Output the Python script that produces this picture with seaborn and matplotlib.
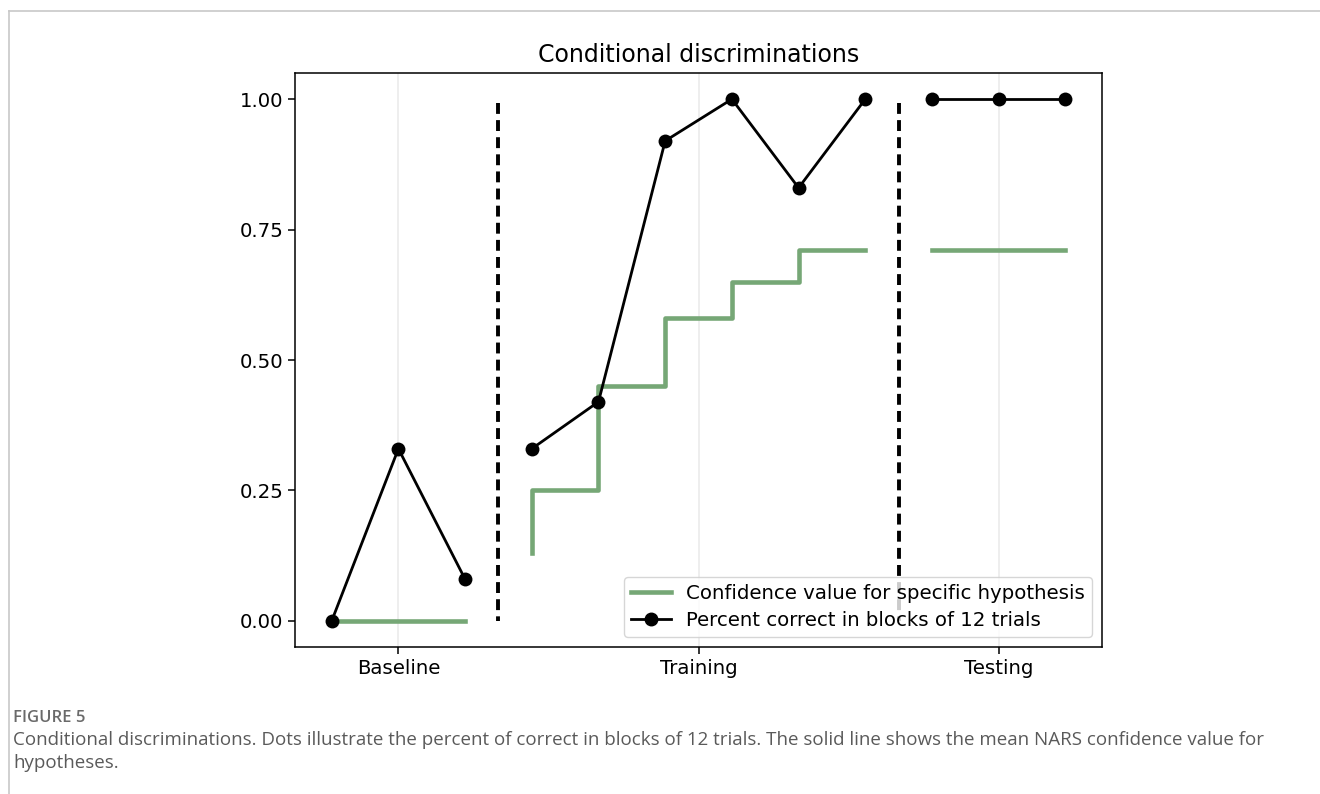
import seaborn as sns
import matplotlib.pyplot as plt
import numpy as np
import pandas as pd
from matplotlib.lines import Line2D

# values
phases = ['Baseline', 'Training', 'Testing']
percent_baseline = [0.0, 0.33, 0.08]
percent_training = [0.33, 0.42, 0.92, 1.0, 0.83, 1.0]
percent_testing = [1.0, 1.0, 1.0]
conf_baseline = [0.0, 0.0, 0.0]
conf_training = [0.13, 0.25, 0.45, 0.58, 0.65, 0.71]
conf_testing = [0.71, 0.71, 0.71]
phase_ticks = [1, 5.5, 10]
phase_breaks = [2.5, 8.5]
yticks = [0.0, 0.25, 0.5, 0.75, 1.0]

percent = percent_baseline + percent_training + percent_testing
conf = conf_baseline + conf_training + conf_testing
phase_col = (['Baseline'] * len(percent_baseline) + ['Training'] * len(percent_training)
             + ['Testing'] * len(percent_testing))
data = pd.DataFrame({'block': np.arange(len(percent)), 'phase': phase_col,
                     'percent': percent, 'confidence': conf})

green = '#76a776'
fs = 14.2

fig = plt.figure(figsize=(13.2, 7.94), dpi=100)
ax = fig.add_axes([0.2235, 0.1851, 0.6114, 0.7229])

sns.lineplot(data=data, x='block', y='confidence', units='phase', estimator=None,
             drawstyle='steps-pre', color=green, lw=3.3, ax=ax, legend=False)
sns.lineplot(data=data, x='block', y='percent', units='phase', estimator=None,
             color='black', lw=2, marker='o', markersize=10, markeredgecolor='black',
             markeredgewidth=0, ax=ax, legend=False)
ax.vlines(phase_breaks, 0, 1, colors='black', linestyles=[(1.6, (2.8, 1.6))], lw=2.8)

ax.set_xticks(phase_ticks)
ax.set_xticklabels(phases, fontsize=fs)
ax.set_yticks(yticks)
ax.set_yticklabels(['%.2f' % v for v in yticks], fontsize=fs)
ax.set_xlim(-0.55, 11.55)
ax.set_ylim(-0.05, 1.05)
ax.set_xlabel('')
ax.set_ylabel('')
ax.grid(axis='x', color='#ebebeb', lw=1.2)
ax.set_axisbelow(True)
ax.tick_params(length=4.8, width=1.1)
for s in ax.spines.values():
    s.set_linewidth(1.1)
ax.set_title('Conditional discriminations', fontsize=17, pad=8)

handles = [Line2D([], [], color=green, lw=3.3),
           Line2D([], [], color='black', lw=2, marker='o', markersize=9)]
ax.legend(handles, ['Confidence value for specific hypothesis',
                    'Percent correct in blocks of 12 trials'],
          loc='lower right', fontsize=fs, handlelength=2.0, borderaxespad=0.5,
          borderpad=0.35, labelspacing=0.4)

# page frame and caption
fig.add_artist(Line2D([9 / 1320, 9 / 1320], [0, 1 - 11 / 794], color='#c8c8c8', lw=1.2))
fig.add_artist(Line2D([9 / 1320, 1], [1 - 11 / 794, 1 - 11 / 794], color='#c8c8c8', lw=1.2))
fig.text(13 / 1320, 1 - 718 / 794, 'FIGURE 5', fontsize=12, fontweight='semibold',
         color='#6a6a6a', family='Open Sans', va='center')
fig.text(13 / 1320, 1 - 740 / 794,
         'Conditional discriminations. Dots illustrate the percent of correct in blocks of 12 trials. '
         'The solid line shows the mean NARS confidence value for',
         fontsize=13.5, color='#5a5a5a', family='Open Sans', va='center')
fig.text(13 / 1320, 1 - 763 / 794, 'hypotheses.', fontsize=13.5, color='#5a5a5a',
         family='Open Sans', va='center')

fig.savefig('out.png', dpi=100)
